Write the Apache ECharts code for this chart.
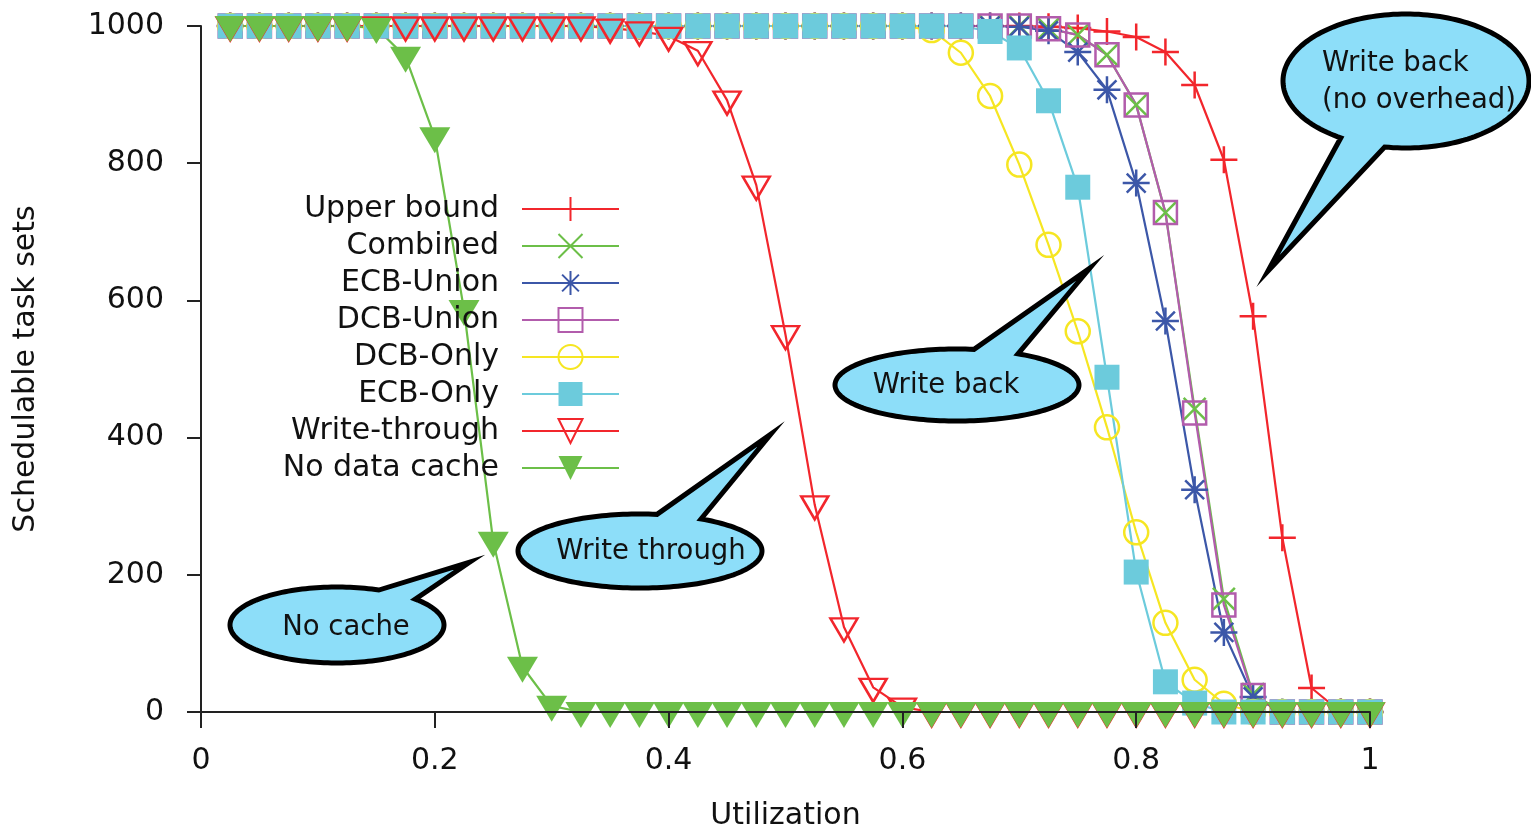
<!DOCTYPE html>
<html><head><meta charset="utf-8">
<script src="https://cdn.jsdelivr.net/npm/echarts@6/dist/echarts.min.js"></script>
<style>html,body{margin:0;padding:0;background:#fff}#c{width:1531px;height:835px}</style>
</head><body><div id="c"></div>
<script>
// ---- data ----
const utilization = [0.025,0.05,0.075,0.1,0.125,0.15,0.175,0.2,0.225,0.25,0.275,0.3,0.325,0.35,0.375,0.4,0.425,0.45,0.475,0.5,0.525,0.55,0.575,0.6,0.625,0.65,0.675,0.7,0.725,0.75,0.775,0.8,0.825,0.85,0.875,0.9,0.925,0.95,0.975,1.0];
const seriesNames = ['Upper bound','Combined','ECB-Union','DCB-Union','DCB-Only','ECB-Only','Write-through','No data cache'];
const upperBound   = [1000,1000,1000,1000,1000,1000,1000,1000,1000,1000,1000,1000,1000,1000,1000,1000,1000,1000,1000,1000,1000,1000,1000,1000,1000,1000,1000,1000,999,997,992,984,962,914,805,577,254,35,0,0];
const combined     = [1000,1000,1000,1000,1000,1000,1000,1000,1000,1000,1000,1000,1000,1000,1000,1000,1000,1000,1000,1000,1000,1000,1000,1000,1000,1000,1000,1000,996,987,958,885,728,442,165,26,0,0,0,0];
const ecbUnion     = [1000,1000,1000,1000,1000,1000,1000,1000,1000,1000,1000,1000,1000,1000,1000,1000,1000,1000,1000,1000,1000,1000,1000,1000,1000,1000,1000,999,993,962,907,771,570,324,116,22,0,0,0,0];
const dcbUnion     = [1000,1000,1000,1000,1000,1000,1000,1000,1000,1000,1000,1000,1000,1000,1000,1000,1000,1000,1000,1000,1000,1000,1000,1000,1000,1000,1000,1000,996,987,958,885,728,436,156,24,0,0,0,0];
const dcbOnly      = [1000,1000,1000,1000,1000,1000,1000,1000,1000,1000,1000,1000,1000,1000,1000,1000,1000,1000,1000,1000,1000,1000,1000,1000,994,961,898,798,681,555,415,262,130,47,12,0,0,0,0,0];
const ecbOnly      = [1000,1000,1000,1000,1000,1000,1000,1000,1000,1000,1000,1000,1000,1000,1000,1000,1000,1000,1000,1000,1000,1000,1000,1000,1000,1000,992,968,891,765,488,204,44,13,0,0,0,0,0,0];
const writeThrough = [1000,1000,1000,1000,1000,1000,1000,1000,1000,1000,1000,1000,1000,997,993,985,964,892,768,550,302,124,36,7,0,0,0,0,0,0,0,0,0,0,0,0,0,0,0,0];
const noDataCache  = [1000,1000,1000,1000,1000,997,955,838,586,248,66,9,0,0,0,0,0,0,0,0,0,0,0,0,0,0,0,0,0,0,0,0,0,0,0,0,0,0,0,0];
const seriesValues = [upperBound, combined, ecbUnion, dcbUnion, dcbOnly, ecbOnly, writeThrough, noDataCache];
const xTickValues = [0, 0.2, 0.4, 0.6, 0.8, 1];
const yTickValues = [0, 200, 400, 600, 800, 1000];

// ---- styles ----
const FONT = 'DejaVu Sans';
const RED = '#f2262c', GREEN = '#6cbf48', BLUE = '#3c57a8', PURPLE = '#b25cac', YELLOW = '#f6e622', CYAN = '#6ccbdc';
const NOFILL = 'rgba(0,0,0,0)';
const styles = [
  {color: RED,    symbol: 'path://M5,0L5,10M0,5L10,5', size: 27, fill: NOFILL, bw: 2.5},
  {color: GREEN,  symbol: 'path://M0,0L10,10M0,10L10,0', size: 22, fill: NOFILL, bw: 2.5},
  {color: BLUE,   symbol: 'path://M5,0L5,10M0,5L10,5M1.5,1.5L8.5,8.5M1.5,8.5L8.5,1.5', size: 27, fill: NOFILL, bw: 2.5},
  {color: PURPLE, symbol: 'rect', size: 23, fill: NOFILL, bw: 2.5},
  {color: YELLOW, symbol: 'circle', size: 24, fill: NOFILL, bw: 2.5},
  {color: CYAN,   symbol: 'rect', size: 25, fill: CYAN, bw: 0},
  {color: RED,    symbol: 'path://M0,0L10,0L5,8.66Z', size: [27, 23], fill: NOFILL, bw: 2.5, off: [0, 3]},
  {color: GREEN,  symbol: 'path://M0,0L10,0L5,8.66Z', size: [31, 26], fill: GREEN, bw: 0, off: [0, 3]}
];

const series = seriesNames.map((name, i) => ({
  name, type: 'line',
  data: utilization.map((x, j) => [x, seriesValues[i][j]]),
  symbol: styles[i].symbol,
  symbolSize: styles[i].size,
  symbolOffset: styles[i].off || [0, 0],
  showAllSymbol: true,
  clip: false,
  lineStyle: {color: styles[i].color, width: 2.2},
  itemStyle: {color: styles[i].fill, borderColor: styles[i].color, borderWidth: styles[i].bw},
  emphasis: {disabled: true},
  animation: false
}));

// ---- callout bubbles (annotations) ----
function bubble(cx, cy, rx, ry, aFrom, aTo, tip) {
  const pts = [tip];
  for (let a = aFrom; a < aTo; a += 2) {
    const r = a * Math.PI / 180;
    pts.push([cx + rx * Math.cos(r), cy + ry * Math.sin(r)]);
  }
  const r = aTo * Math.PI / 180;
  pts.push([cx + rx * Math.cos(r), cy + ry * Math.sin(r)]);
  return {type: 'polygon', z: 100, silent: true, shape: {points: pts},
    style: {fill: '#8ddef9', stroke: '#000', lineWidth: 5, lineJoin: 'miter', miterLimit: 20}};
}
function label(text, x, y, align) {
  return {type: 'text', z: 101, silent: true,
    style: {text, x, y, align: align || 'center', verticalAlign: 'middle', fill: '#111',
      font: '27.5px "' + FONT + '"', lineHeight: 37}};
}

const chart = echarts.init(document.getElementById('c'), null, {renderer: 'canvas'});
chart.setOption({
  animation: false,
  backgroundColor: '#fff',
  grid: {left: 201, right: 161, top: 26, bottom: 123, containLabel: false, outerBoundsMode: 'none'},
  xAxis: {
    type: 'value', min: 0, max: 1, interval: 0.2, z: 5,
    name: 'Utilization', nameLocation: 'middle', nameGap: 89,
    nameTextStyle: {fontFamily: FONT, fontSize: 30, color: '#111'},
    axisLine: {show: true, onZero: false, lineStyle: {color: '#222', width: 2}},
    axisTick: {show: true, length: 16, lineStyle: {color: '#222', width: 2}},
    axisLabel: {fontFamily: FONT, fontSize: 30, color: '#111', margin: 34,
      customValues: xTickValues, formatter: v => String(v)},
    splitLine: {show: false}
  },
  yAxis: {
    type: 'value', min: 0, max: 1000, interval: 200, z: 5,
    name: 'Schedulable task sets', nameLocation: 'middle', nameGap: 160, nameRotate: 90,
    nameTextStyle: {fontFamily: FONT, fontSize: 30, color: '#111'},
    axisLine: {show: true, onZero: false, lineStyle: {color: '#222', width: 2}},
    axisTick: {show: true, length: 14, lineStyle: {color: '#222', width: 2}},
    axisLabel: {fontFamily: FONT, fontSize: 30, color: '#111', margin: 37,
      customValues: yTickValues, formatter: v => String(v)},
    splitLine: {show: false}
  },
  legend: {
    orient: 'vertical', align: 'right', right: 911, top: 194, padding: 0,
    itemWidth: 97, itemHeight: 30, itemGap: 7, selectedMode: false,
    textStyle: {fontFamily: FONT, fontSize: 30, color: '#111', lineHeight: 30, padding: [0, 18, 0, 0]},
    data: seriesNames
  },
  series,
  graphic: [
    bubble(1406, 81, 123, 67, 122, 460, [1268, 271]),
    label('Write back\n(no overhead)', 1322, 82, 'left'),
    bubble(957, 385, 122, 36, -60, 278, [1090, 268]),
    label('Write back', 946, 386),
    bubble(640, 551, 122, 37, -60, 278, [771, 434]),
    label('Write through', 651, 552),
    bubble(337, 625, 107, 38, -43, 293, [470, 562]),
    label('No cache', 346, 628)
  ]
});
</script>
</body></html>
